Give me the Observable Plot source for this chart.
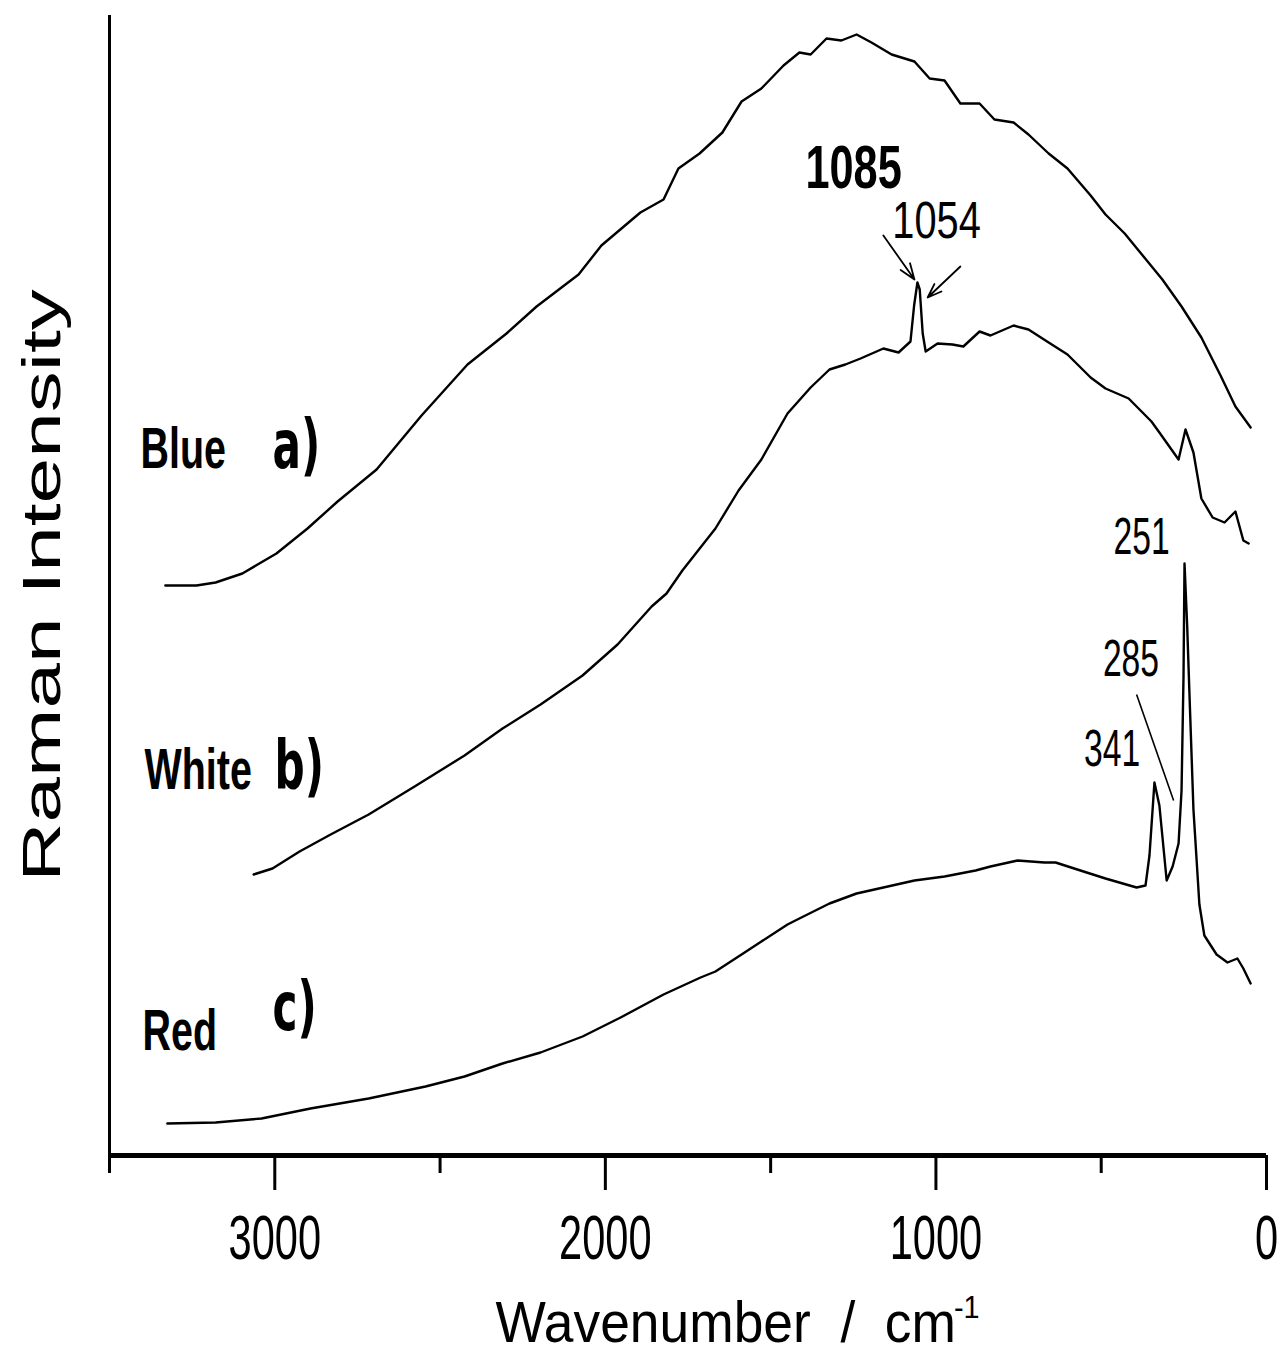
<!DOCTYPE html>
<html>
<head>
<meta charset="utf-8">
<script src="https://cdn.jsdelivr.net/npm/d3@7"></script>
<script src="https://cdn.jsdelivr.net/npm/@observablehq/plot@0.6"></script>
<style>
  body { margin: 0; background: #ffffff; }
  #chart svg { display: block; }
</style>
</head>
<body>
<div id="chart"></div>
<script>
// ---- data (Raman shift in cm-1, intensity in arbitrary units, stacked spectra) ----
const blueWn = [3331,3237,3179,3098,2995,2901,2810,2692,2556,2417,2299,2208,2081,2012,1894,1824,1779,1715,1646,1588,1528,1461,1413,1379,1331,1286,1240,1195,1134,1065,1019,974,926,868,823,765,720,659,602,532,487,429,372,315,257,197,139,94,48];
const blueInt = [570,570,573,582,602,627,654,686,740,791,822,849,881,910,943,956,987,1002,1023,1054,1067,1090,1103,1101,1117,1115,1121,1113,1101,1094,1077,1075,1052,1052,1036,1033,1021,1002,987,960,941,922,899,876,849,818,780,749,728];

const whiteWn = [3064,3007,2925,2831,2716,2577,2426,2311,2196,2069,1963,1860,1815,1767,1667,1597,1528,1449,1379,1322,1274,1228,1159,1113,1077,1066,1056,1049,1040,1031,995,950,917,868,835,765,720,659,602,532,487,417,372,348,324,266,245,221,197,163,127,94,70,54];
const whiteInt = [281,287,304,321,341,369,400,427,451,480,511,549,562,585,627,665,696,742,768,786,791,797,807,803,814,850,873,866,822,804,812,811,809,824,820,830,826,813,801,778,767,757,742,734,723,696,726,703,657,638,633,644,615,612];

const redWn = [3325,3179,3040,2892,2716,2544,2426,2311,2196,2069,1954,1824,1712,1667,1588,1528,1449,1413,1322,1240,1159,1065,974,880,835,753,672,638,544,487,393,366,354,339,324,302,284,266,257,251,248,240,233,221,203,188,151,118,88,70,48];
const redInt = [32,33,37,47,57,69,79,92,103,119,138,161,178,184,201,214,231,237,252,262,268,275,279,285,289,295,293,293,283,277,268,270,300,373,350,275,289,312,365,480,592,530,461,346,251,220,201,193,197,187,172];

const majorTicks = [3000, 2000, 1000, 0];
const minorTicks = [3500, 2500, 1500, 500];

const sampleNames = ["Blue", "White", "Red"];
const sampleNameWn = [3406, 3394, 3400];
const sampleNameInt = [688, 367, 106];
const sampleLetters = ["a)", "b)", "c)"];
const sampleLetterWn = [3007, 3001, 3007];
const sampleLetterInt = [688, 367, 126];

const peakLabels = ["1054", "251", "285", "341"];
const peakLabelWn = [998, 378, 410, 467];
const peakLabelInt = [918, 602, 480, 390];
const boldPeakLabel = ["1085"];
const boldPeakWn = [1249];
const boldPeakInt = [968];

const arrowsFrom = [[1159, 920], [926, 889]];
const arrowsTo = [[1065, 876], [1025, 858]];
const pointerFrom = [[393, 461]];
const pointerTo = [[281, 355]];

// ---- tables built from the arrays ----
const rows = [
  ...blueWn.map((w, i) => ({sample: "Blue", wn: w, intensity: blueInt[i]})),
  ...whiteWn.map((w, i) => ({sample: "White", wn: w, intensity: whiteInt[i]})),
  ...redWn.map((w, i) => ({sample: "Red", wn: w, intensity: redInt[i]}))
];
const nameRows = sampleNames.map((t, i) => ({t, wn: sampleNameWn[i], v: sampleNameInt[i]}));
const letterRows = sampleLetters.map((t, i) => ({t, wn: sampleLetterWn[i], v: sampleLetterInt[i]}));
const peakRows = peakLabels.map((t, i) => ({t, wn: peakLabelWn[i], v: peakLabelInt[i]}));
const boldRows = boldPeakLabel.map((t, i) => ({t, wn: boldPeakWn[i], v: boldPeakInt[i]}));
const arrowRows = arrowsFrom.map((a, i) => ({x1: a[0], y1: a[1], x2: arrowsTo[i][0], y2: arrowsTo[i][1]}));
const pointerRows = pointerFrom.map((a, i) => ({x1: a[0], y1: a[1], x2: pointerTo[i][0], y2: pointerTo[i][1]}));

const SANS = "'Liberation Sans', Arial, Helvetica, sans-serif";
const ROUND = "'Comic Sans MS', 'DejaVu Sans', sans-serif";

const chart = Plot.plot({
  width: 1284,
  height: 1354,
  marginLeft: 109,
  marginRight: 18,
  marginTop: 15,
  marginBottom: 199,
  x: {domain: [3500, 0]},
  y: {domain: [0, 1140], axis: null},
  style: {fontFamily: SANS, background: "#ffffff", color: "#000000", overflow: "visible"},
  marks: [
    Plot.axisX({ticks: minorTicks, tickSize: 18, strokeWidth: 3, tickFormat: () => ""}),
    Plot.axisX({ticks: majorTicks, tickSize: 35, tickPadding: 24, strokeWidth: 3, fontSize: 63, fontFamily: SANS, tickFormat: d => String(d)}),
    Plot.ruleX([3500], {y1: 0, y2: 1140, strokeWidth: 3, stroke: "#000"}),
    Plot.ruleY([0], {strokeWidth: 5, stroke: "#000"}),
    Plot.line(rows, {x: "wn", y: "intensity", z: "sample", stroke: "#000", strokeWidth: 2.4, strokeLinejoin: "round"}),
    Plot.arrow(arrowRows, {x1: "x1", y1: "y1", x2: "x2", y2: "y2", stroke: "#000", strokeWidth: 1.8, headLength: 14, headAngle: 40}),
    Plot.link(pointerRows, {x1: "x1", y1: "y1", x2: "x2", y2: "y2", stroke: "#000", strokeWidth: 1.6}),
    Plot.text(nameRows, {x: "wn", y: "v", text: "t", textAnchor: "start", lineAnchor: "bottom", fontSize: 58, fontWeight: "bold", fontFamily: SANS, fill: "#000"}),
    Plot.text(letterRows, {x: "wn", y: "v", text: "t", textAnchor: "start", lineAnchor: "bottom", fontSize: 68, fontWeight: "bold", fontFamily: ROUND, fill: "#000"}),
    Plot.text(peakRows, {x: "wn", y: "v", text: "t", textAnchor: "middle", lineAnchor: "bottom", fontSize: 51, fontFamily: SANS, fill: "#000"}),
    Plot.text(boldRows, {x: "wn", y: "v", text: "t", textAnchor: "middle", lineAnchor: "bottom", fontSize: 61, fontWeight: "bold", fontFamily: SANS, fill: "#000"}),
    Plot.text(["Raman Intensity"], {frameAnchor: "left", rotate: -90, dx: -50, textAnchor: "middle", lineAnchor: "bottom", fontSize: 82, fontFamily: SANS, fill: "#000"}),
    Plot.text(["Wavenumber \u00a0/\u00a0 cm"], {frameAnchor: "bottom", textAnchor: "end", lineAnchor: "bottom", dx: 268, dy: 186, fontSize: 58, fontFamily: SANS, fill: "#000"}),
    Plot.text(["-1"], {frameAnchor: "bottom", textAnchor: "start", lineAnchor: "bottom", dx: 266, dy: 162, fontSize: 32, fontFamily: SANS, fill: "#000"})
  ]
});

document.getElementById("chart").appendChild(chart);

// The reference typography is horizontally condensed; squash glyphs about each text anchor.
const squash = {"1085": 0.71, "1054": 0.78, "Blue": 0.68, "White": 0.68, "Red": 0.68,
  "a)": 0.62, "b)": 0.62, "c)": 0.62, "Wavenumber \u00a0/\u00a0 cm": 0.92, "-1": 0.9};
d3.select(chart).selectAll("text").each(function () {
  const t = this.textContent;
  const k = squash[t] !== undefined ? squash[t] : 0.66;
  let tr = this.getAttribute("transform");
  if (!tr) {
    const x = this.getAttribute("x"), y = this.getAttribute("y");
    const xn = x && !/em/.test(x) ? +x : 0;
    const yn = y && !/em/.test(y) ? +y : 0;
    if (x && !/em/.test(x)) this.removeAttribute("x");
    if (y && !/em/.test(y)) this.removeAttribute("y");
    tr = `translate(${xn},${yn})`;
  }
  this.setAttribute("transform", tr + (/rotate/.test(tr) ? ` scale(1,${k})` : ` scale(${k},1)`));
});
</script>
</body>
</html>
